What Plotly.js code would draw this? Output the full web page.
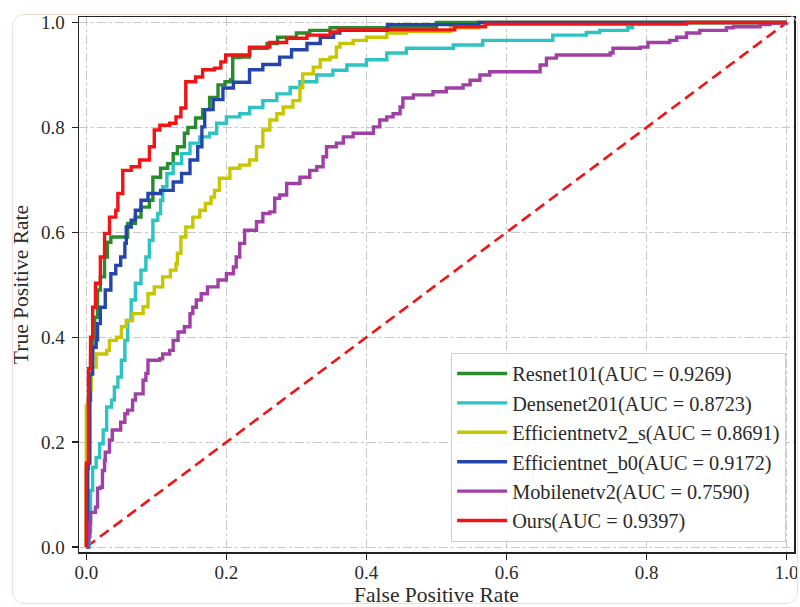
<!DOCTYPE html>
<html>
<head>
<meta charset="utf-8">
<script src="https://cdn.plot.ly/plotly-3.0.1.min.js"></script>
<style>
html,body{margin:0;padding:0;background:#fff;}
#wrap{position:relative;width:800px;height:607px;}
#chart{width:800px;height:607px;}
#frame{position:absolute;left:12px;top:14px;width:786px;height:590px;border:1px solid #f3ddd2;border-radius:12px;pointer-events:none;box-sizing:border-box;}
</style>
</head>
<body>
<div id="wrap"><div id="chart"></div><div id="frame"></div></div>
<script>
// ---- data ----
const seriesNames = [
  "Resnet101(AUC = 0.9269)",
  "Densenet201(AUC = 0.8723)",
  "Efficientnetv2_s(AUC = 0.8691)",
  "Efficientnet_b0(AUC = 0.9172)",
  "Mobilenetv2(AUC = 0.7590)",
  "Ours(AUC = 0.9397)"
];

const resnetFpr = [0,0.000,0.003,0.006,0.009,0.012,0.016,0.020,0.026,0.030,0.035,0.055,0.059,0.070,0.078,0.090,0.095,0.106,0.116,0.124,0.130,0.140,0.145,0.156,0.166,0.176,0.188,0.198,0.206,0.209,0.219,0.233,0.258,0.273,0.300,0.319,0.348,0.500,0.500,1.0];
const resnetTpr = [0,0.150,0.280,0.360,0.400,0.438,0.490,0.515,0.553,0.581,0.591,0.591,0.617,0.629,0.648,0.661,0.705,0.722,0.731,0.750,0.763,0.789,0.800,0.818,0.834,0.857,0.881,0.887,0.891,0.933,0.934,0.951,0.960,0.972,0.980,0.985,0.990,0.990,1.0,1.0];

const densenetFpr = [0,0.004,0.006,0.006,0.009,0.014,0.019,0.024,0.029,0.036,0.040,0.045,0.050,0.055,0.059,0.064,0.070,0.078,0.085,0.090,0.095,0.102,0.106,0.109,0.115,0.124,0.136,0.148,0.162,0.176,0.186,0.200,0.219,0.233,0.252,0.272,0.291,0.305,0.329,0.352,0.372,0.400,0.429,0.457,0.524,0.566,0.666,0.714,0.733,0.773,0.780,1.0];
const densenetTpr = [0,0.030,0.070,0.108,0.152,0.171,0.197,0.223,0.267,0.280,0.305,0.324,0.356,0.394,0.432,0.471,0.503,0.528,0.553,0.585,0.623,0.636,0.661,0.687,0.712,0.731,0.750,0.770,0.782,0.789,0.808,0.820,0.826,0.838,0.851,0.864,0.876,0.887,0.900,0.909,0.919,0.929,0.942,0.951,0.957,0.966,0.976,0.981,0.985,0.990,1.0,1.0];

const effv2Fpr = [0,0.000,0.004,0.007,0.014,0.029,0.033,0.043,0.050,0.057,0.066,0.081,0.088,0.097,0.109,0.120,0.128,0.130,0.135,0.142,0.152,0.162,0.170,0.178,0.183,0.190,0.205,0.219,0.233,0.243,0.252,0.262,0.272,0.281,0.295,0.305,0.309,0.324,0.334,0.348,0.357,0.362,0.381,0.400,0.429,0.457,0.520,0.560,1.0];
const effv2Tpr = [0,0.270,0.300,0.343,0.368,0.375,0.394,0.400,0.420,0.432,0.445,0.458,0.483,0.496,0.515,0.528,0.540,0.560,0.591,0.610,0.629,0.642,0.655,0.667,0.680,0.703,0.722,0.728,0.738,0.763,0.795,0.814,0.826,0.839,0.851,0.876,0.902,0.915,0.929,0.934,0.953,0.960,0.966,0.972,0.980,0.983,0.990,1.0,1.0];

const effb0Fpr = [0,0.002,0.005,0.009,0.014,0.016,0.020,0.027,0.035,0.042,0.049,0.055,0.057,0.064,0.070,0.078,0.088,0.106,0.124,0.136,0.148,0.159,0.165,0.169,0.181,0.195,0.210,0.233,0.252,0.276,0.293,0.315,0.334,0.353,0.362,0.430,0.430,0.560,0.560,1.0];
const effb0Tpr = [0,0.160,0.330,0.381,0.395,0.426,0.457,0.490,0.521,0.537,0.553,0.579,0.610,0.623,0.642,0.661,0.674,0.680,0.696,0.712,0.738,0.763,0.801,0.834,0.853,0.875,0.886,0.910,0.920,0.934,0.948,0.960,0.972,0.980,0.985,0.990,0.996,0.996,1.0,1.0];

const mobileFpr = [0,0.003,0.005,0.006,0.013,0.016,0.020,0.023,0.026,0.027,0.033,0.037,0.045,0.049,0.055,0.059,0.066,0.070,0.078,0.081,0.085,0.088,0.105,0.109,0.119,0.124,0.131,0.140,0.148,0.152,0.157,0.164,0.173,0.188,0.200,0.210,0.214,0.219,0.226,0.238,0.243,0.252,0.262,0.269,0.276,0.286,0.305,0.319,0.329,0.338,0.343,0.357,0.367,0.381,0.400,0.410,0.419,0.429,0.438,0.448,0.452,0.467,0.495,0.514,0.538,0.548,0.562,0.576,0.643,0.648,0.657,0.671,0.748,0.752,0.791,0.802,0.833,0.843,0.857,0.876,0.914,0.924,0.962,0.976,1.0];
const mobileTpr = [0,0.020,0.045,0.066,0.076,0.112,0.114,0.146,0.165,0.181,0.204,0.223,0.223,0.238,0.254,0.261,0.280,0.292,0.292,0.318,0.331,0.356,0.359,0.368,0.375,0.394,0.410,0.420,0.445,0.457,0.471,0.483,0.496,0.509,0.521,0.534,0.553,0.579,0.604,0.604,0.620,0.636,0.639,0.665,0.671,0.693,0.705,0.718,0.725,0.744,0.763,0.770,0.782,0.789,0.789,0.801,0.814,0.820,0.826,0.839,0.856,0.862,0.868,0.875,0.881,0.890,0.900,0.906,0.906,0.919,0.932,0.938,0.942,0.951,0.953,0.962,0.966,0.972,0.980,0.985,0.990,0.992,0.996,0.999,1.0];

const oursFpr = [0,0.000,0.003,0.006,0.009,0.013,0.020,0.026,0.033,0.042,0.045,0.052,0.064,0.076,0.090,0.097,0.105,0.119,0.128,0.135,0.142,0.156,0.166,0.183,0.192,0.199,0.216,0.233,0.262,0.286,0.315,0.348,0.360,0.524,0.526,0.570,0.570,0.857,0.857,1.0];
const oursTpr = [0,0.160,0.340,0.400,0.457,0.503,0.553,0.598,0.629,0.642,0.674,0.718,0.725,0.738,0.763,0.795,0.804,0.808,0.820,0.837,0.887,0.896,0.910,0.913,0.925,0.938,0.938,0.953,0.962,0.970,0.976,0.982,0.986,0.986,0.992,0.992,0.997,0.997,1.0,1.0];

const chanceX = [0, 1];
const chanceY = [0, 1];

const tickVals = [0, 0.2, 0.4, 0.6, 0.8, 1.0];
const tickText = ["0.0", "0.2", "0.4", "0.6", "0.8", "1.0"];

const xs = [resnetFpr, densenetFpr, effv2Fpr, effb0Fpr, mobileFpr, oursFpr];
const ys = [resnetTpr, densenetTpr, effv2Tpr, effb0Tpr, mobileTpr, oursTpr];
const colors = ["#2a8a2e", "#2ec3c3", "#c8c600", "#2446aa", "#a03fa6", "#f21414"];

const FONT = '"Liberation Serif", "Times New Roman", serif';

const traces = [{
  x: chanceX, y: chanceY, mode: "lines", showlegend: false, hoverinfo: "skip",
  line: {color: "#f21414", width: 2.6, dash: "11px,6px"}
}];
for (let i = 0; i < seriesNames.length; i++) {
  traces.push({
    x: xs[i], y: ys[i], mode: "lines", name: seriesNames[i],
    line: {color: colors[i], width: 3.4, shape: "hv"}
  });
}

const axisCommon = {
  tickvals: tickVals, ticktext: tickText,
  ticks: "outside", ticklen: 6, tickwidth: 1.3, tickcolor: "#222",
  showline: true, linecolor: "#222", linewidth: 1.5, mirror: true,
  showgrid: true, gridcolor: "#c9c9c9", gridwidth: 1, griddash: "dashdot",
  zeroline: false, automargin: false,
  tickfont: {family: FONT, size: 19, color: "#2a2a2a"}
};

const layout = {
  width: 800, height: 607,
  margin: {l: 79, r: 6, t: 17, b: 55, pad: 0},
  paper_bgcolor: "#ffffff", plot_bgcolor: "#ffffff",
  font: {family: FONT, color: "#2a2a2a"},
  xaxis: Object.assign({}, axisCommon, {
    range: [-0.0105, 1.0105],
    ticklabelstandoff: -3,
    title: {text: "False Positive Rate", font: {family: FONT, size: 21.5, color: "#2a2a2a"}, standoff: 4}
  }),
  yaxis: Object.assign({}, axisCommon, {
    range: [-0.0095, 1.0105],
    ticklabelstandoff: 3,
    title: {text: "True Positive Rate", font: {family: FONT, size: 21.5, color: "#2a2a2a"}, standoff: 6}
  }),
  legend: {
    x: 0.989, y: 0.019, xanchor: "right", yanchor: "bottom",
    bgcolor: "rgba(255,255,255,0.85)", bordercolor: "#d0d0d0", borderwidth: 1,
    font: {family: FONT, size: 20.3, color: "#2a2a2a"},
    itemwidth: 50,
    tracegroupgap: 0
  },
  showlegend: true
};

Plotly.newPlot("chart", traces, layout, {staticPlot: true, displayModeBar: false});
</script>
</body>
</html>
